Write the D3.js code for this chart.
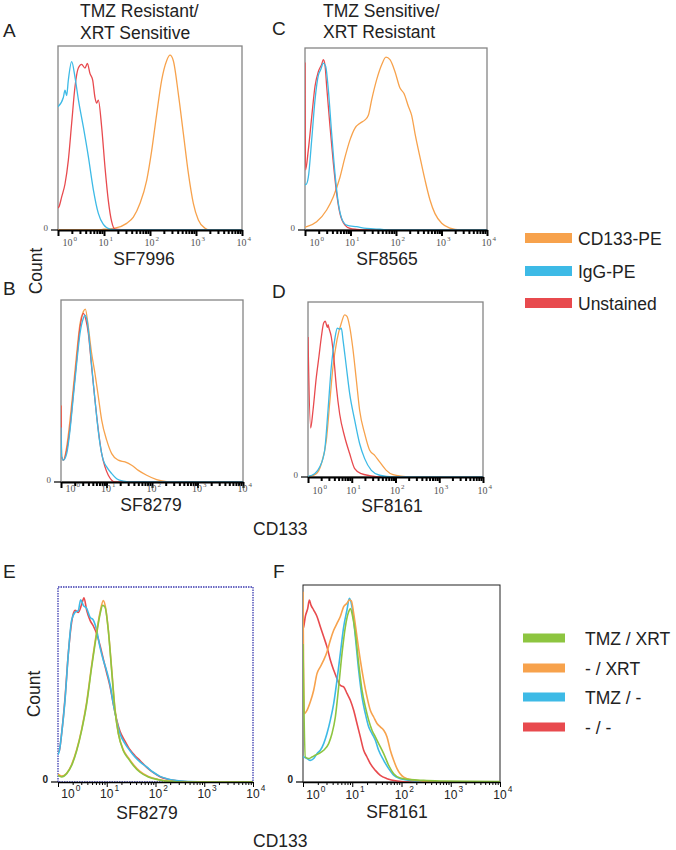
<!DOCTYPE html>
<html><head><meta charset="utf-8">
<script src="https://cdn.jsdelivr.net/npm/d3@7"></script>
<style>body{margin:0;background:#fff}svg{display:block}</style>
</head><body><svg id="c" width="676" height="850"></svg>
<script>
// ---------- DATA: [log10(CD133 intensity), % of max count] ----------
const decades = [0, 1, 2, 3, 4];
const legendTop = ["CD133-PE", "IgG-PE", "Unstained"];
const legendBottom = ["TMZ / XRT", "- / XRT", "TMZ / -", "- / -"];

const A_unst = [[0,12],[0.022,12.7],[0.08,18],[0.152,25],[0.225,38],[0.297,58],[0.37,78],[0.442,88],[0.514,90],[0.587,88],[0.638,90.5],[0.696,85],[0.754,81.5],[0.804,72],[0.841,69],[0.877,70.6],[0.949,56],[1.022,34],[1.094,16],[1.167,4.5],[1.239,0.4],[1.5,0],[4,0]];
const A_igg = [[0,67],[0.116,72],[0.152,76],[0.188,73],[0.225,81.5],[0.297,91.5],[0.37,83],[0.442,71],[0.551,56],[0.659,40],[0.768,22],[0.877,9],[0.986,3],[1.13,0.5],[1.4,0],[4,0]];
const A_cd133 = [[0,0],[0.8,0],[1.0,0.4],[1.239,1],[1.493,3.6],[1.638,7],[1.783,14.5],[1.928,27],[2.036,43],[2.145,63],[2.254,81.5],[2.362,92],[2.435,95],[2.507,92],[2.616,74],[2.725,52.5],[2.833,31],[2.942,14.5],[3.051,5.4],[3.196,1],[3.304,0],[4,0]];

const C_unst = [[0,92],[0.012,33],[0.073,44],[0.147,62],[0.22,79],[0.293,87],[0.366,91],[0.403,93.6],[0.44,90.5],[0.476,79],[0.549,57],[0.623,36.7],[0.696,20],[0.769,9],[0.879,2.7],[0.989,0.9],[1.136,0.4],[1.355,0],[4,0]];
const C_igg = [[0,25],[0.022,25],[0.073,29],[0.147,49.5],[0.22,71.5],[0.293,85],[0.344,88],[0.403,91.7],[0.454,90],[0.513,77],[0.586,53],[0.659,31],[0.733,14.7],[0.806,6.4],[0.916,2.7],[1.136,1.8],[1.355,0.9],[1.648,0.4],[1.941,0],[4,0]];
const C_cd133 = [[0,1.5],[0.037,1.8],[0.256,4.6],[0.476,11],[0.623,18.3],[0.769,29],[0.879,40],[0.989,49.5],[1.099,56],[1.209,58.7],[1.319,60.5],[1.392,63],[1.465,71.5],[1.575,82.6],[1.685,90.8],[1.78,95],[1.868,93.6],[1.978,87],[2.088,78],[2.176,75],[2.271,68],[2.344,63],[2.418,53],[2.527,40],[2.637,27.5],[2.747,16.5],[2.857,9],[3.004,3.7],[3.187,1],[3.407,0],[4,0]];

const B_unst = [[0,42],[0.01,14],[0.051,12],[0.125,17.4],[0.198,30],[0.271,48.6],[0.344,67],[0.418,85],[0.491,92.7],[0.549,89],[0.601,81.7],[0.674,63],[0.747,45],[0.821,28.4],[0.894,15.6],[0.967,8.3],[1.04,3.7],[1.114,1],[1.187,0],[4,0]];
const B_igg = [[0,30],[0.015,14],[0.051,12],[0.125,15.6],[0.198,28.4],[0.271,46.8],[0.344,65],[0.418,81.7],[0.491,90],[0.527,91.7],[0.579,88],[0.637,74],[0.711,54],[0.784,35.8],[0.857,21],[0.93,12],[1.004,8.3],[1.114,4.6],[1.223,1.8],[1.37,0.5],[1.59,0],[4,0]];
const B_cd133 = [[0,42],[0.015,13.8],[0.051,12],[0.125,19.3],[0.198,34],[0.271,52],[0.344,70.6],[0.418,87],[0.491,93.6],[0.535,95],[0.601,85],[0.674,70.6],[0.747,59.6],[0.821,46.8],[0.894,34],[1.004,23],[1.114,15.6],[1.26,12],[1.407,11],[1.553,9.2],[1.7,6.4],[1.883,3.7],[2.103,1.3],[2.322,0.2],[2.542,0],[4,0]];

const D_unst = [[0,80],[0.06,28],[0.114,38],[0.19,57],[0.251,69],[0.305,80],[0.358,88],[0.396,89],[0.442,85.5],[0.46,87],[0.48,85],[0.533,80],[0.587,69],[0.648,51.6],[0.724,36],[0.838,23],[0.952,13.4],[1.067,4.8],[1.219,1.9],[1.41,0.8],[1.638,0],[4,0]];
const D_igg = [[0,0.4],[0.152,1.9],[0.267,5.7],[0.381,15.3],[0.457,38],[0.533,63],[0.61,78.4],[0.67,85],[0.724,84.5],[0.762,85],[0.8,78.4],[0.876,63],[0.952,47.8],[1.067,32.5],[1.181,19],[1.295,10.5],[1.448,3.8],[1.638,1],[1.943,0],[4,0]];
const D_cd133 = [[0,0],[0.19,1.9],[0.305,7.6],[0.419,21],[0.495,42],[0.571,63],[0.663,78.4],[0.762,88],[0.838,92.7],[0.891,91.8],[0.952,86],[1.029,72.7],[1.105,55.4],[1.181,38],[1.295,24.9],[1.41,15.3],[1.524,12.4],[1.638,8.6],[1.79,3.8],[1.943,1.3],[2.171,0.4],[2.4,0],[4,0]];

const E_none = [[0,15],[0.027,16],[0.075,25],[0.144,43],[0.212,66],[0.28,82],[0.349,88],[0.417,87],[0.485,91],[0.533,94.5],[0.588,88],[0.656,83],[0.725,80],[0.793,76],[0.862,70],[0.93,63],[0.998,56],[1.067,49],[1.135,40],[1.203,32],[1.272,26],[1.374,21],[1.477,16.5],[1.579,13.5],[1.682,11],[1.819,7.5],[1.956,4.8],[2.092,2.7],[2.229,1.5],[2.434,0.6],[2.708,0],[4,0]];
const E_tmz = [[0,14],[0.027,16],[0.075,24.8],[0.144,42],[0.212,65.8],[0.28,83],[0.349,87],[0.417,88],[0.465,93.5],[0.52,90.6],[0.588,89],[0.656,84.6],[0.725,83],[0.793,77.8],[0.862,69],[0.93,62.4],[0.998,57],[1.067,50],[1.135,40],[1.203,31.6],[1.272,24.8],[1.374,19.7],[1.477,16],[1.579,12.8],[1.682,10.3],[1.819,7.7],[1.956,5],[2.092,2.9],[2.229,1.7],[2.434,0.7],[2.708,0.2],[3.05,0],[4,0]];
const E_xrt = [[0,4],[0.075,3],[0.178,4.5],[0.28,9],[0.383,16.5],[0.485,27],[0.588,41],[0.691,60],[0.793,77],[0.862,87],[0.93,93],[0.985,88],[1.032,78],[1.101,58],[1.169,37.5],[1.238,25],[1.34,16.5],[1.443,12.5],[1.545,9],[1.682,5.5],[1.853,2.8],[2.058,1.3],[2.297,0.3],[2.571,0],[4,0]];
const E_both = [[0,3.4],[0.075,2.6],[0.178,4.3],[0.28,8.5],[0.383,16],[0.485,26.5],[0.588,40],[0.691,59],[0.793,76],[0.862,86],[0.916,90.6],[0.964,89.7],[1.032,77.8],[1.101,57],[1.169,36.8],[1.238,24.8],[1.34,16],[1.443,12],[1.545,8.5],[1.682,5],[1.853,2.6],[2.058,1.2],[2.297,0.3],[2.571,0],[4,0]];

const F_none = [[0,78],[0.014,78.8],[0.047,84],[0.095,88],[0.129,92.4],[0.162,89.8],[0.217,87.3],[0.284,84],[0.352,78.8],[0.42,73.7],[0.487,68.6],[0.555,61.9],[0.623,56.8],[0.69,52.5],[0.758,49],[0.826,48.3],[0.893,45],[0.961,41.5],[1.029,36.4],[1.096,29.7],[1.164,22.9],[1.232,16.1],[1.299,12.7],[1.367,9.3],[1.469,5.9],[1.57,3.4],[1.706,1.7],[1.909,0.5],[2.179,0],[4,0]];
const F_xrt = [[0,96.6],[0.027,34.7],[0.081,36.4],[0.149,40.7],[0.217,46.6],[0.284,55],[0.352,58.5],[0.42,61.9],[0.487,66],[0.555,72],[0.623,77],[0.69,80.5],[0.758,84],[0.826,89],[0.893,90.7],[0.941,92.4],[0.981,92],[1.029,85.6],[1.096,73.7],[1.164,61.9],[1.232,51.7],[1.299,43.2],[1.367,36.4],[1.435,33],[1.503,29.7],[1.57,28],[1.638,26.3],[1.706,22.9],[1.773,16.1],[1.841,11],[1.909,6.8],[2.044,2.5],[2.247,1],[2.45,0.4],[2.721,0],[4,0]];
const F_tmz = [[0,13],[0.014,12.7],[0.081,11.9],[0.149,11],[0.217,11.9],[0.284,14.4],[0.352,16.1],[0.42,19.5],[0.487,24.6],[0.555,31.4],[0.623,39.8],[0.69,51.7],[0.758,65.3],[0.826,78.8],[0.893,87.3],[0.941,93.2],[0.995,88.8],[1.063,73.7],[1.13,56.8],[1.198,43.2],[1.266,34.7],[1.333,28],[1.401,24.6],[1.469,21.2],[1.536,16.1],[1.638,11],[1.739,6.8],[1.841,3.4],[1.976,1.7],[2.179,0.8],[2.45,0.3],[2.856,0],[4,0]];
const F_both = [[0,70],[0.047,12.7],[0.115,11.9],[0.183,12.7],[0.25,13.6],[0.318,14.4],[0.42,16.1],[0.521,19.5],[0.589,24.6],[0.657,33],[0.724,48.3],[0.792,65.3],[0.86,78.8],[0.927,86.4],[0.961,88],[1.008,84],[1.063,75.4],[1.13,60.2],[1.198,46.6],[1.266,38.1],[1.333,31.4],[1.401,26.3],[1.469,22.9],[1.536,19.5],[1.638,14.4],[1.739,8.5],[1.841,4.2],[1.976,2],[2.179,1.2],[2.45,0.8],[2.856,0.5],[3.398,0.3],[4,0.2]];

// ---------- STYLE / LAYOUT ----------
const ORANGE = "#F7A24C", BLUE = "#3DBAE6", RED = "#E84A4E", GREEN = "#8DC540";
const SANS = "'Liberation Sans', Arial, Helvetica, sans-serif";
const SERIF = "'Liberation Serif', 'DejaVu Serif', serif";

const panels = [
  {key:"A", box:[58,46,242,230], series:[A_cd133, A_unst, A_igg], colors:[ORANGE, RED, BLUE], name:"SF7996", nameX:144, nameY:265, tickY:246, style:"gray"},
  {key:"B", box:[61,300,243,482], series:[B_cd133, B_unst, B_igg], colors:[ORANGE, RED, BLUE], name:"SF8279", nameX:151, nameY:511, tickY:492, style:"gray"},
  {key:"C", box:[305,48,487,230], series:[C_cd133, C_unst, C_igg], colors:[ORANGE, RED, BLUE], name:"SF8565", nameX:387, nameY:265, tickY:246, style:"gray"},
  {key:"D", box:[308,302,483,477], series:[D_cd133, D_unst, D_igg], colors:[ORANGE, RED, BLUE], name:"SF8161", nameX:392, nameY:512, tickY:494, style:"gray"},
  {key:"E", box:[58,587,253,782], series:[E_none, E_tmz, E_xrt, E_both], colors:[RED, BLUE, ORANGE, GREEN], name:"SF8279", nameX:147, nameY:819, tickY:798, style:"blue"},
  {key:"F", box:[303,585,500,782], series:[F_none, F_tmz, F_xrt, F_both], colors:[RED, BLUE, ORANGE, GREEN], name:"SF8161", nameX:397, nameY:818, tickY:799, style:"black"}
];

const svg = d3.select("#c");
const isDecade = v => Math.abs(Math.log10(v) - Math.round(Math.log10(v))) < 1e-9;

panels.forEach(p => {
  const [x0, y0, x1, y1] = p.box;
  const bottomRow = p.style !== "gray";
  const x = d3.scaleLog().domain([1, 1e4]).range([x0, x1]);
  const y = d3.scaleLinear().domain([0, 100]).range([y1, y0]);
  const g = svg.append("g");
  const clipId = "clip" + p.key;
  svg.append("clipPath").attr("id", clipId).append("rect")
    .attr("x", x0).attr("y", y0 - 2).attr("width", x1 - x0).attr("height", y1 - y0 + 2);

  // frame
  const fr = g.append("rect").attr("x", x0).attr("y", y0).attr("width", x1 - x0).attr("height", y1 - y0).attr("fill", "none");
  if (p.style === "gray") fr.attr("stroke", "#858585").attr("stroke-width", 1.3);
  else if (p.style === "blue") fr.attr("stroke", "#3a3ab0").attr("stroke-width", 1.3).attr("stroke-dasharray", "1.5,1");
  else fr.attr("stroke", "#222").attr("stroke-width", 1);

  // histograms
  const line = d3.line().x(d => x(Math.pow(10, d[0]))).y(d => y(d[1])).curve(d3.curveMonotoneX);
  p.series.forEach((s, i) => {
    g.append("path").attr("d", line(s)).attr("fill", "none")
      .attr("stroke", p.colors[i]).attr("stroke-width", bottomRow ? 1.6 : 1.3)
      .attr("stroke-linejoin", "round").attr("clip-path", `url(#${clipId})`);
  });

  // x axis
  const ax = g.append("g").attr("transform", `translate(0,${y1})`)
    .call(d3.axisBottom(x).tickValues(x.ticks()).tickFormat("").tickSizeOuter(0));
  ax.select(".domain").attr("stroke", "#000").attr("stroke-width", bottomRow ? 1.4 : 2.2);
  ax.selectAll(".tick line")
    .attr("y2", d => isDecade(d) ? (bottomRow ? 5 : 6) : (bottomRow ? 3 : 4))
    .attr("stroke", "#000").attr("stroke-width", bottomRow ? 1 : 2);

  // tick labels 10^k (one text element each, superscript as tspan)
  const fs = bottomRow ? 12 : 10;
  decades.forEach(k => {
    const tx = x(Math.pow(10, k)) + (k === 0 ? 10 : 0);
    const t = g.append("text").attr("x", tx - fs * 0.556).attr("y", p.tickY)
      .attr("font-family", bottomRow ? SANS : SERIF).attr("font-size", fs)
      .attr("fill", bottomRow ? "#222" : "#555");
    t.append("tspan").text("10");
    t.append("tspan").attr("dx", 1).attr("dy", -fs * 0.55).attr("font-size", fs * 0.7).text(k);
  });

  // y "0" label and tick
  g.append("line").attr("x1", x0 - 7).attr("x2", x0).attr("y1", y1).attr("y2", y1)
    .attr("stroke", "#000").attr("stroke-width", 1.2);
  g.append("text").attr("x", x0 - 10).attr("y", y1 + 1).attr("text-anchor", "end")
    .attr("font-family", bottomRow ? SANS : SERIF).attr("font-size", bottomRow ? 10 : 9)
    .attr("font-weight", bottomRow ? "bold" : "normal")
    .attr("fill", bottomRow ? "#222" : "#555").text("0");

  // cell line name
  g.append("text").attr("x", p.nameX).attr("y", p.nameY).attr("text-anchor", "middle")
    .attr("font-family", SANS).attr("font-size", 17.5).attr("fill", "#222").text(p.name);
});

// ---------- LABELS ----------
const txt = (s, x, y, size, anchor) => svg.append("text").attr("x", x).attr("y", y)
  .attr("font-family", SANS).attr("font-size", size).attr("fill", "#222")
  .attr("text-anchor", anchor || "start").text(s);

const letters = [["A",3,37],["C",272,35],["B",3,295],["D",272,298],["E",3,578],["F",273,578]];
letters.forEach(l => txt(l[0], l[1], l[2], 19));

txt("TMZ Resistant/", 80, 17, 17.5);
txt("XRT Sensitive", 80, 39, 17.5);
txt("TMZ Sensitive/", 323, 17, 17.5);
txt("XRT Resistant", 323, 38, 17.5);

txt("CD133", 253, 535, 17.5);
txt("CD133", 253, 847, 17.5);

svg.append("text").attr("transform", "translate(42,271) rotate(-90)").attr("text-anchor", "middle")
  .attr("font-family", SANS).attr("font-size", 17.5).attr("fill", "#222").text("Count");
svg.append("text").attr("transform", "translate(40,694) rotate(-90)").attr("text-anchor", "middle")
  .attr("font-family", SANS).attr("font-size", 17.5).attr("fill", "#222").text("Count");

// ---------- LEGENDS ----------
const legTopColors = [ORANGE, BLUE, RED];
const legTopY = [238, 271, 303];
legendTop.forEach((s, i) => {
  svg.append("rect").attr("x", 525).attr("y", legTopY[i] - 5).attr("width", 47).attr("height", 10).attr("fill", legTopColors[i]);
  txt(s, 578, legTopY[i] + 6.5, 17.5);
});
const legBotColors = [GREEN, ORANGE, BLUE, RED];
const legBotY = [638, 668, 697, 727];
legendBottom.forEach((s, i) => {
  svg.append("rect").attr("x", 523).attr("y", legBotY[i] - 4.5).attr("width", 42).attr("height", 9).attr("fill", legBotColors[i]);
  txt(s, 585, legBotY[i] + 6.5, 17.5);
});
</script></body></html>
